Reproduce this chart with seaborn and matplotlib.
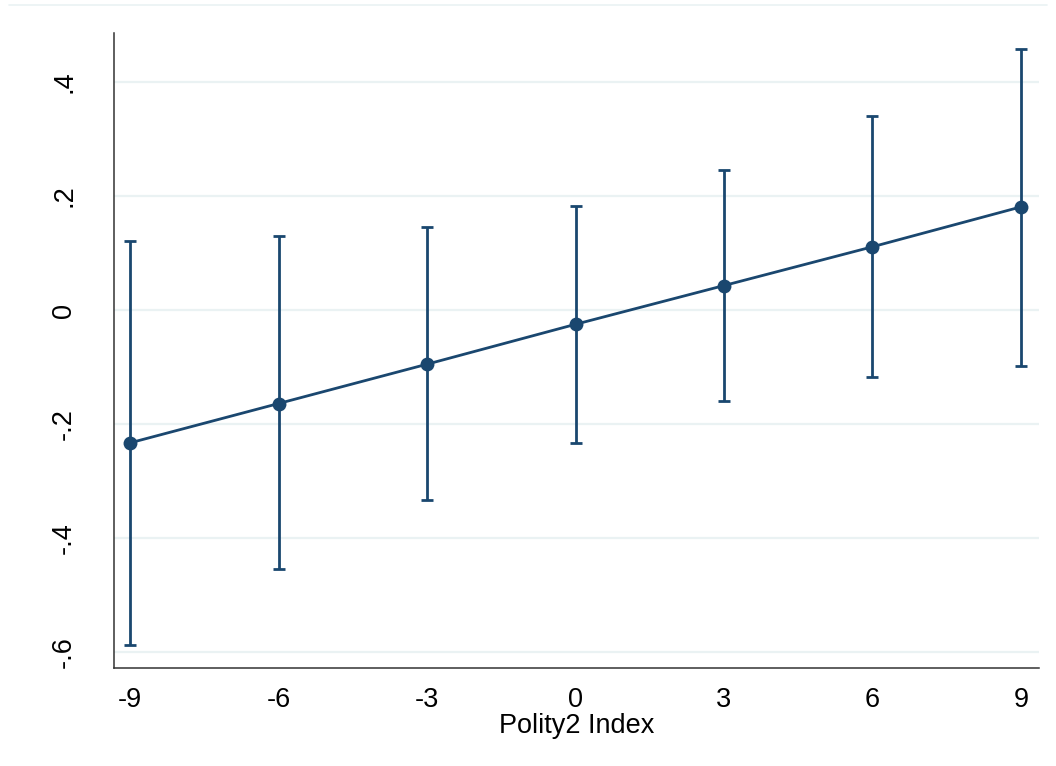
import matplotlib
matplotlib.use("Agg")
import matplotlib.pyplot as plt
from matplotlib.lines import Line2D
import seaborn as sns
import pandas as pd
import numpy as np

# Data
polity = [-9, -6, -3, 0, 3, 6, 9]
effect = [-0.233, -0.164, -0.095, -0.025, 0.043, 0.111, 0.181]
ci_low = [-0.587, -0.455, -0.333, -0.233, -0.160, -0.118, -0.098]
ci_high = [0.122, 0.130, 0.145, 0.182, 0.246, 0.340, 0.458]
yticks = [-0.6, -0.4, -0.2, 0.0, 0.2, 0.4]
ytick_labels = ["-.6", "-.4", "-.2", "0", ".2", ".4"]
xlabel = "Polity2 Index"

df = pd.DataFrame({"polity": polity, "effect": effect, "lo": ci_low, "hi": ci_high})

sns.set_theme(style="white")
plt.rcParams['font.family'] = ['Liberation Sans', 'DejaVu Sans']

navy = "#1a476f"
grid_c = "#eaf2f3"
axis_c = "#333333"
fs = 19.5

fig = plt.figure(figsize=(10.56, 7.66), dpi=100)
ax = fig.add_axes([0.1080, 0.1279, 0.9839 - 0.1080, 0.9569 - 0.1279])

ax.errorbar(df["polity"], df["effect"],
            yerr=[df["effect"] - df["lo"], df["hi"] - df["effect"]],
            fmt="none", ecolor=navy, elinewidth=2.0, capsize=4.5, capthick=2.0, zorder=2)
sns.lineplot(data=df, x="polity", y="effect", ax=ax, color=navy, linewidth=2.0,
             marker="o", markersize=10, markeredgewidth=0, zorder=3)

ax.set_xlim(-9.323, 9.364)
ax.set_ylim(-0.628, 0.486)
ax.set_xticks(polity)
ax.set_xticklabels([str(v) for v in polity])
ax.set_yticks(yticks)
ax.set_yticklabels(ytick_labels, rotation=90, va="center")

for v in yticks:
    ax.axhline(v, color=grid_c, linewidth=1.6, zorder=0)

for s in ["top", "right"]:
    ax.spines[s].set_visible(False)
for s in ["left", "bottom"]:
    ax.spines[s].set_color(axis_c)
    ax.spines[s].set_linewidth(1.1)

ax.tick_params(axis="both", which="major", direction="out", length=7.5, width=1.1,
               color=axis_c, labelsize=fs, labelcolor="black")
ax.tick_params(axis="x", pad=6)
ax.tick_params(axis="y", pad=19)
ax.set_xlabel(xlabel, fontsize=fs, color="black", labelpad=0)
ax.set_ylabel("")

fig.add_artist(Line2D([9/1056, 1047/1056], [1 - 4.5/766, 1 - 4.5/766],
                      transform=fig.transFigure, color=grid_c, linewidth=1.2))

fig.savefig("out.png", dpi=100, facecolor="white")
